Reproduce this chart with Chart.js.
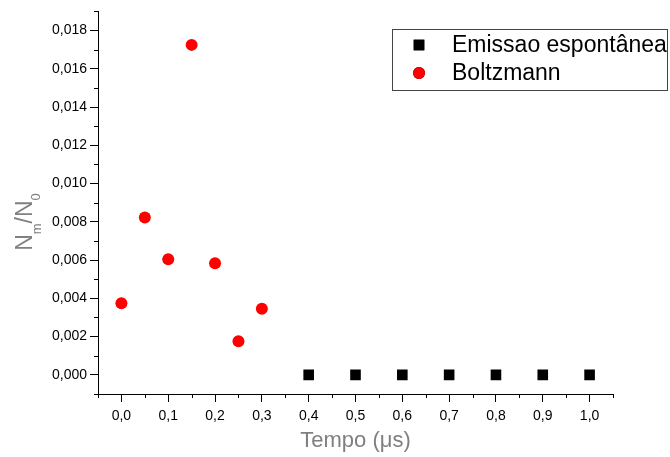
<!DOCTYPE html>
<html>
<head>
<meta charset="utf-8">
<script src="https://cdn.jsdelivr.net/npm/chart.js@4.4.1/dist/chart.umd.min.js"></script>
<style>
  html, body { margin: 0; padding: 0; background: #fff; }
  #wrap { width: 670px; height: 457px; }
</style>
</head>
<body>
<div id="wrap"><canvas id="chart" width="670" height="457"></canvas></div>
<script>
// data
var emissaoX = [0.4, 0.5, 0.6, 0.7, 0.8, 0.9, 1.0]
var emissaoY = [0, 0, 0, 0, 0, 0, 0]
var boltzX = [0.0, 0.05, 0.1, 0.15, 0.2, 0.25, 0.3]
var boltzY = [0.00374, 0.00823, 0.00604, 0.01725, 0.00583, 0.00176, 0.00346]

var xTicks = [0, 0.1, 0.2, 0.3, 0.4, 0.5, 0.6, 0.7, 0.8, 0.9, 1.0]
var yTicks = [0, 0.002, 0.004, 0.006, 0.008, 0.010, 0.012, 0.014, 0.016, 0.018]
var seriesLabels = ['Emissao espontânea', 'Boltzmann']

var titleGray = '#808080'
var font = "'Liberation Sans', Arial, sans-serif"

function toPoints(xs, ys) {
  return xs.map(function (x, i) { return { x: x, y: ys[i] } })
}

// minor ticks between the labelled ones
var minorTicks = {
  id: 'minorTicks',
  afterDraw: function (chart) {
    var ctx = chart.ctx
    var xs = chart.scales.x
    var ys = chart.scales.y
    var area = chart.chartArea
    ctx.save()
    ctx.strokeStyle = '#000'
    ctx.lineWidth = 1
    ctx.beginPath()
    for (var i = 0; i < xTicks.length + 1; i++) {
      var v = -0.05 + i * 0.1
      var px = Math.round(xs.getPixelForValue(v)) + 0.5
      ctx.moveTo(px, area.bottom)
      ctx.lineTo(px, area.bottom + 4)
    }
    for (var j = 0; j < yTicks.length + 1; j++) {
      var w = -0.001 + j * 0.002
      var py = Math.round(ys.getPixelForValue(w)) + 0.5
      ctx.moveTo(area.left, py)
      ctx.lineTo(area.left - 4, py)
    }
    ctx.stroke()
    ctx.restore()
  }
}

// y title with subscripts: N_m / N_0
var yTitle = {
  id: 'yTitle',
  afterDraw: function (chart) {
    var ctx = chart.ctx
    var big = '23px ' + font
    var small = '13px ' + font
    var parts = [['N', big, 0], ['m', small, 9], ['/N', big, 0], ['0', small, 8]]
    ctx.save()
    ctx.fillStyle = titleGray
    ctx.textBaseline = 'alphabetic'
    var total = 0
    parts.forEach(function (p) { ctx.font = p[1]; total += ctx.measureText(p[0]).width })
    ctx.translate(32, 222)
    ctx.rotate(-Math.PI / 2)
    var x = -total / 2
    parts.forEach(function (p) {
      ctx.font = p[1]
      ctx.fillText(p[0], x, p[2])
      x += ctx.measureText(p[0]).width
    })
    ctx.restore()
  }
}

// boxed legend inside the plot
var boxLegend = {
  id: 'boxLegend',
  afterDraw: function (chart) {
    var ctx = chart.ctx
    ctx.save()
    ctx.strokeStyle = '#444'
    ctx.lineWidth = 1
    ctx.strokeRect(392.5, 29.5, 275, 61)
    ctx.font = '23px ' + font
    ctx.textBaseline = 'middle'
    ctx.fillStyle = '#000'
    chart.data.datasets.forEach(function (ds, i) {
      var cy = 45 + i * 28
      Chart.helpers.drawPoint(ctx, {
        pointStyle: ds.pointStyle,
        radius: ds.pointRadius,
        borderWidth: 0
      }, 419, cy)
      ctx.fillStyle = ds.backgroundColor
      ctx.fill()
      ctx.fillStyle = '#000'
      ctx.fillText(seriesLabels[i], 452, cy + 1)
    })
    ctx.restore()
  }
}

var ctx = document.getElementById('chart').getContext('2d')
var chart = new Chart(ctx, {
  type: 'scatter',
  data: {
    datasets: [{
      label: seriesLabels[0],
      data: toPoints(emissaoX, emissaoY),
      pointStyle: 'rect',
      pointRadius: 7.5,
      backgroundColor: '#000000',
      borderColor: '#000000',
      borderWidth: 0
    }, {
      label: seriesLabels[1],
      data: toPoints(boltzX, boltzY),
      pointStyle: 'circle',
      pointRadius: 6,
      backgroundColor: '#ff0000',
      borderColor: '#ff0000',
      borderWidth: 0
    }]
  },
  options: {
    responsive: false,
    animation: false,
    layout: {
      padding: { left: 0, right: 57, top: 11, bottom: 0 }
    },
    plugins: {
      legend: { display: false },
      tooltip: { enabled: false }
    },
    scales: {
      x: {
        type: 'linear',
        min: -0.05,
        max: 1.05,
        afterBuildTicks: function (scale) {
          scale.ticks = xTicks.map(function (v) { return { value: v } })
        },
        afterFit: function (scale) { scale.height = 63 },
        grid: { drawOnChartArea: false, drawTicks: true, tickLength: 8, color: '#000' },
        border: { display: true, color: '#000', width: 1 },
        ticks: {
          autoSkip: false,
          maxRotation: 0,
          padding: 6,
          color: '#000',
          font: { family: font, size: 14 },
          callback: function (v) { return v.toFixed(1).replace('.', ',') }
        },
        title: {
          display: true,
          text: 'Tempo (\u03bcs)',
          color: titleGray,
          font: { family: font, size: 22 },
          padding: { top: 0, bottom: 3 }
        }
      },
      y: {
        type: 'linear',
        min: -0.001,
        max: 0.019,
        afterBuildTicks: function (scale) {
          scale.ticks = yTicks.map(function (v) { return { value: v } })
        },
        afterFit: function (scale) { scale.width = 98 },
        grid: { drawOnChartArea: false, drawTicks: true, tickLength: 8, color: '#000' },
        border: { display: true, color: '#000', width: 1 },
        ticks: {
          autoSkip: false,
          padding: 3,
          color: '#000',
          font: { family: font, size: 14 },
          callback: function (v) { return v.toFixed(3).replace('.', ',') }
        }
      }
    }
  },
  plugins: [minorTicks, yTitle, boxLegend]
})
</script>
</body>
</html>
